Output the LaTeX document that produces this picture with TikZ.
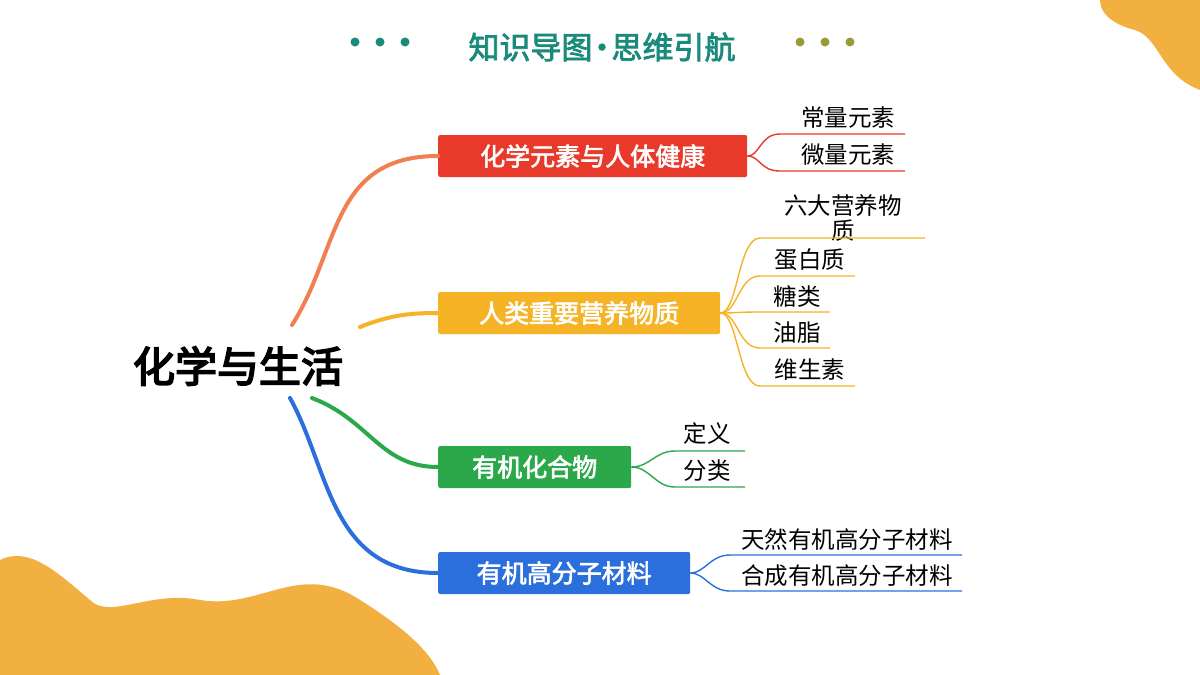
\documentclass[tikz,border=0pt]{standalone}
\usepackage{fontspec}
\setmainfont{Noto Sans CJK SC}
\newfontfamily\cjkb[FakeBold=2.5]{Noto Sans CJK SC}
\newfontfamily\cjkbb[FakeBold=4]{Noto Sans CJK SC}
\definecolor{teal1}{HTML}{1A8A7A}
\definecolor{olive1}{HTML}{9A9A3A}
\definecolor{blob}{HTML}{F2B041}
\definecolor{cred}{HTML}{E8392B}
\definecolor{cora}{HTML}{F5B325}
\definecolor{cgrn}{HTML}{2AA84A}
\definecolor{cblu}{HTML}{2B6FDC}
\definecolor{csal}{HTML}{F08050}
\tikzset{
 mbox/.style={rounded corners=2pt,minimum height=42pt,inner xsep=0pt,text=white,font=\fontsize{25}{25}\selectfont\cjkb},
 leaf/.style={font=\fontsize{23.5}{25}\selectfont,inner sep=1pt},
 br/.style={line width=4pt,line cap=round},
 sb/.style={line width=1.4pt}
}
\begin{document}
\begin{tikzpicture}[x=1pt,y=-1pt]
\useasboundingbox (0,0) rectangle (1200,675);
\fill[white] (0,0) rectangle (1200,675);
% blobs
\fill[blob] (1200,0) -- (1100,0) .. controls (1100,15) and (1115,25) .. (1135,30) .. controls (1160,38) and (1160,75) .. (1200,90) -- cycle;
\fill[blob] (0,560) .. controls (30,545) and (60,575) .. (90,600) .. controls (110,620) and (150,590) .. (200,600) .. controls (260,610) and (300,560) .. (360,600) .. controls (400,625) and (430,650) .. (440,675) -- (0,675) -- cycle;
% title
\node (title) at (602,47) {\fontsize{31}{31}\selectfont\cjkb\color{teal1}知识导图\kern-6pt·\kern-6pt思维引航};
\foreach \x in {355,380,405} \fill[teal1] (\x,42) circle (4.5pt);
\foreach \x in {800,825,850} \fill[olive1] (\x,42) circle (4.5pt);
% center
\node (c) at (238,366) {\fontsize{42}{42}\selectfont\cjkbb 化学与生活};
% boxes
\node[mbox,fill=cred,anchor=west,minimum width=309pt] (b1) at (438,156) {化学元素与人体健康};
\node[mbox,fill=cora,anchor=west,minimum width=282pt] (b2) at (438,313) {人类重要营养物质};
\node[mbox,fill=cgrn,anchor=west,minimum width=193pt] (b3) at (438,467) {有机化合物};
\node[mbox,fill=cblu,anchor=west,minimum width=252pt] (b4) at (438,573) {有机高分子材料};
% branches
\coordinate (s1) at (292,325); \coordinate (s2) at (360,327);
\coordinate (s3) at (312,398); \coordinate (s4) at (290,398);
\draw[br,csal] (s1) .. controls (340,250) and (330,156) .. (b1.west);
\draw[br,cora] (s2) .. controls (390,315) and (410,313) .. (b2.west);
\draw[br,cgrn] (s3) .. controls (370,420) and (380,467) .. (b3.west);
\draw[br,cblu] (s4) .. controls (330,470) and (330,573) .. (b4.west);
% leaves red
\node[leaf] (l11) at (848,118) {常量元素};
\node[leaf] (l12) at (848,155) {微量元素};
\draw[sb,cred] (b1.east) .. controls (760,156) and (760,134) .. (780,134) -- (905,134);
\draw[sb,cred] (b1.east) .. controls (760,156) and (760,171) .. (780,171) -- (905,171);
% orange leaves
\node[leaf,align=center] (l21) at (843,218) {六大营养物\\质};
\node[leaf] (l22) at (810,260) {蛋白质};
\node[leaf] (l23) at (797,297) {糖类};
\node[leaf] (l24) at (797,333) {油脂};
\node[leaf] (l25) at (810,370) {维生素};
\draw[sb,cora] (b2.east) .. controls (738,313) and (738,238) .. (760,238) -- (925,238);
\draw[sb,cora] (b2.east) .. controls (738,313) and (738,276) .. (760,276) -- (855,276);
\draw[sb,cora] (b2.east) .. controls (738,313) and (738,312) .. (760,312) -- (830,312);
\draw[sb,cora] (b2.east) .. controls (738,313) and (738,348) .. (760,348) -- (830,348);
\draw[sb,cora] (b2.east) .. controls (738,313) and (738,386) .. (760,386) -- (855,386);
% green leaves
\node[leaf] (l31) at (707,434) {定义};
\node[leaf] (l32) at (707,471) {分类};
\draw[sb,cgrn] (b3.east) .. controls (650,467) and (655,451) .. (675,451) -- (745,451);
\draw[sb,cgrn] (b3.east) .. controls (650,467) and (655,487) .. (675,487) -- (745,487);
% blue leaves
\node[leaf] (l41) at (847,540) {天然有机高分子材料};
\node[leaf] (l42) at (847,576) {合成有机高分子材料};
\draw[sb,cblu] (b4.east) .. controls (705,573) and (710,555) .. (730,555) -- (962,555);
\draw[sb,cblu] (b4.east) .. controls (705,573) and (710,591) .. (730,591) -- (962,591);
\end{tikzpicture}
\end{document}
